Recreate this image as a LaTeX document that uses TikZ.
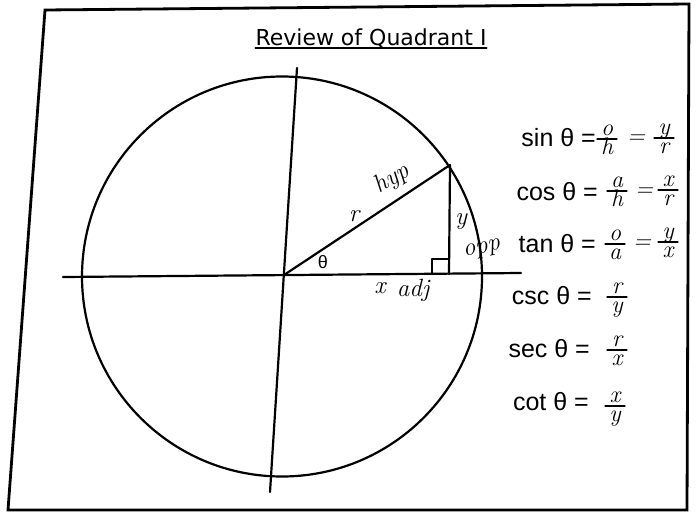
\documentclass[tikz,border=0pt]{standalone}
\usepackage{fontspec}
\newfontfamily\eqfont{Liberation Sans}
\newfontfamily\titlefont{DejaVu Sans}
% #1 name, #2 x, #3 y of bar, #4 numerator, #5 denominator
\newcommand{\hwfrac}[5]{%
  \node[hw, anchor=base] (#1n) at ({#2},{#3-4}) {#4};
  \node[hw, anchor=base] (#1d) at ({#2},{#3+15}) {#5};
  \draw[line width=1.1pt] ({#2-10},{#3}) -- ({#2+10},{#3});
}
\begin{document}
\begin{tikzpicture}[x=1pt,y=-1pt, line cap=round, line join=round,
  ln/.style={line width=2.2pt, black},
  eq/.style={font=\eqfont\fontsize{25}{28}\selectfont, anchor=base east, inner sep=0pt},
  hw/.style={font=\fontsize{24}{26}\selectfont\itshape, inner sep=0pt},
  lab/.style={font=\fontsize{25}{28}\selectfont\itshape, inner sep=0pt}]
\useasboundingbox (0,0) rectangle (696,514);
\fill[white] (0,0) rectangle (696,514);
% frame
\coordinate (f1) at (45,10);
\coordinate (f2) at (689,4);
\coordinate (f3) at (687,510);
\coordinate (f4) at (8,510);
\draw[line width=2.8pt, line cap=butt, line join=miter] (f1) -- (f2) -- (f3) -- (f4) -- cycle;
% title
\node[font=\titlefont\fontsize{22}{26}\selectfont, anchor=base, inner sep=0pt] (title) at (371,45) {Review of Quadrant I};
\draw[line width=1.6pt] ([yshift=-3pt]title.base west) -- ([yshift=-3pt]title.base east);
% circle and axes
\coordinate (C) at (282,276.5);
\draw[ln] (C) circle[radius=200];
\coordinate (O) at (284,275);
\coordinate (xl) at (63,277);
\coordinate (xr) at (521,273);
\coordinate (yt) at (297,68);
\coordinate (yb) at (270,492);
\draw[ln] (xl) -- (xr);
\draw[ln] (yt) -- (yb);
% triangle
\coordinate (P) at (450,165);
\coordinate (F) at (449,274);
\draw[ln] (O) -- (P);
\draw[ln] (P) -- (F);
\draw[line width=1.8pt] (432,274) -- (432,259) -- (449,259);
% triangle labels
\node[font=\eqfont\fontsize{18}{20}\selectfont, inner sep=0pt] (th) at (323,262) {θ};
\node[lab] (r) at (354,216) {r};
\node[lab, rotate=32] (hyp) at (392,179) {hyp};
\node[lab] (y) at (461,222) {y};
\node[lab, rotate=12] (opp) at (482,250) {opp};
\node[lab] (x) at (380,288) {x};
\node[lab] (adj) at (413,290) {adj};
% equations
\node[eq] (sin) at (596,146) {sin θ =};
\node[eq] (cos) at (598,200) {cos θ =};
\node[eq] (tan) at (596,252) {tan θ =};
\node[eq] (csc) at (592,304) {csc θ =};
\node[eq] (sec) at (590,357) {sec θ =};
\node[eq] (cot) at (589,410) {cot θ =};
% handwritten fractions
\hwfrac{sinA}{607}{139}{o}{h}
\node[hw] (sine) at (636,139) {=};
\hwfrac{sinB}{664}{138}{y}{r}
\hwfrac{cosA}{617}{191}{a}{h}
\node[hw] (cose) at (644,192) {=};
\hwfrac{cosB}{668}{190}{x}{r}
\hwfrac{tanA}{615}{244}{o}{a}
\node[hw] (tane) at (642,244) {=};
\hwfrac{tanB}{668}{242}{y}{x}
\hwfrac{cscA}{617}{297}{r}{y}
\hwfrac{secA}{617}{350}{r}{x}
\hwfrac{cotA}{615}{406}{x}{y}
\end{tikzpicture}
\end{document}
